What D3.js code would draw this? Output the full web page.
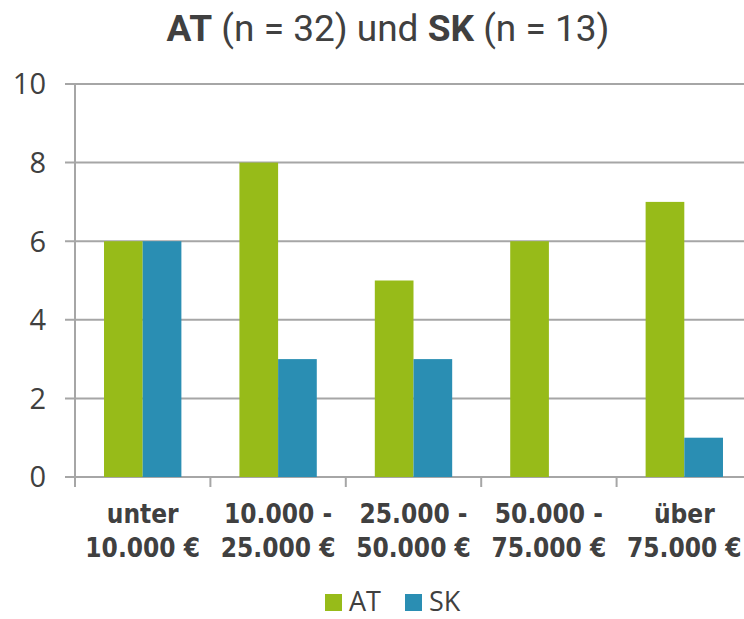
<!DOCTYPE html>
<html><head><meta charset="utf-8">
<script src="https://cdn.jsdelivr.net/npm/d3@7"></script>
<style>body{margin:0;background:#fff}svg{display:block}</style>
</head><body>
<svg id="c" width="744" height="619"></svg>
<script>
const categories = [["unter", "10.000 €"], ["10.000 -", "25.000 €"], ["25.000 -", "50.000 €"], ["50.000 -", "75.000 €"], ["über", "75.000 €"]];
const seriesNames = ["AT", "SK"];
const atValues = [6, 8, 5, 6, 7];
const skValues = [6, 3, 3, 0, 1];
const yTicks = [0, 2, 4, 6, 8, 10];
const colors = {AT: "#97BB19", SK: "#2A8EB3"};

const svg = d3.select("#c");
const txt = "#404040", grid = "#a6a6a6";
const catKeys = categories.map((c, i) => i);
const x = d3.scaleBand().domain(catKeys).range([75, 752]).paddingInner(0).paddingOuter(0);
const xs = d3.scaleBand().domain(seriesNames).range([0, x.bandwidth()]).paddingInner(0).paddingOuter(0.75);
const y = d3.scaleLinear().domain([0, 10]).range([477, 84]);

// gridlines
svg.append("g").selectAll("line").data(yTicks).join("line")
  .attr("x1", 65).attr("x2", 744).attr("y1", d => y(d)).attr("y2", d => y(d))
  .attr("stroke", grid).attr("stroke-width", 2);
// y axis line
svg.append("line").attr("x1", 75).attr("x2", 75).attr("y1", y(10)).attr("y2", 487)
  .attr("stroke", grid).attr("stroke-width", 2);
// x ticks
svg.append("g").selectAll("line").data(catKeys.slice(1)).join("line")
  .attr("x1", d => x(d)).attr("x2", d => x(d)).attr("y1", y(0)).attr("y2", 487)
  .attr("stroke", grid).attr("stroke-width", 2);
// y tick labels
svg.append("g").selectAll("text").data(yTicks).join("text")
  .attr("x", 46).attr("y", d => y(d)).attr("dy", "0.36em").attr("text-anchor", "end")
  .attr("font-family", "Open Sans").attr("font-size", 29).attr("fill", txt).text(d => d);

// bars
const data = catKeys.map(i => ({i, AT: atValues[i], SK: skValues[i]}));
const g = svg.append("g");
seriesNames.forEach(s => {
  g.selectAll("rect." + s).data(data).join("rect").attr("class", s)
    .attr("x", d => x(d.i) + xs(s)).attr("width", xs.bandwidth())
    .attr("y", d => y(d[s])).attr("height", d => y(0) - y(d[s]))
    .attr("fill", colors[s]);
});

// category labels
const cl = svg.append("g").selectAll("text").data(catKeys).join("text")
  .attr("text-anchor", "middle").attr("font-family", "DejaVu Sans Condensed, DejaVu Sans")
  .attr("font-weight", "bold").attr("font-size", 26).attr("fill", txt)
  .attr("font-stretch", "condensed");
cl.append("tspan").attr("x", d => x(d) + x.bandwidth() / 2).attr("y", 523).text(d => categories[d][0]);
cl.append("tspan").attr("x", d => x(d) + x.bandwidth() / 2).attr("y", 557).text(d => categories[d][1]);

// title
const t = svg.append("text").attr("x", 388).attr("y", 41).attr("text-anchor", "middle")
  .attr("font-family", "Roboto").attr("font-size", 37).attr("fill", txt);
t.append("tspan").attr("font-weight", "bold").text("AT");
t.append("tspan").text(" (n = 32) und ");
t.append("tspan").attr("font-weight", "bold").text("SK");
t.append("tspan").text(" (n = 13)");

// legend
const lx = [325, 405];
const lg = svg.append("g").selectAll("g").data(seriesNames).join("g")
  .attr("transform", (d, i) => `translate(${lx[i]},594)`);
lg.append("rect").attr("width", 17).attr("height", 17).attr("fill", d => colors[d]);
lg.append("text").attr("x", 24).attr("y", 17).attr("font-family", "Open Sans")
  .attr("font-size", 27).attr("fill", txt).text(d => d);
</script>
</body></html>
